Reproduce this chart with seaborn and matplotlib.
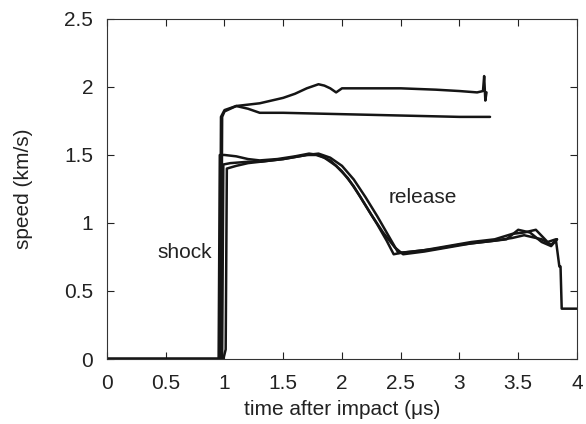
import pandas as pd
import matplotlib
matplotlib.use("Agg")
import matplotlib.pyplot as plt
import seaborn as sns

# upper traces (no release)
hi_t = [0, 0.96, 0.97, 1.0, 1.1, 1.2, 1.3, 1.4, 1.5, 1.6, 1.7, 1.8, 1.85, 1.9, 1.95, 2.0, 2.2, 2.5, 2.8, 3.0, 3.15, 3.2, 3.21, 3.22, 3.23]
hi_v = [0, 0, 1.78, 1.83, 1.86, 1.87, 1.88, 1.90, 1.92, 1.95, 1.99, 2.02, 2.01, 1.99, 1.96, 1.99, 1.99, 1.99, 1.98, 1.97, 1.96, 1.97, 2.08, 1.90, 1.96]

lo_t = [0, 0.97, 0.98, 1.0, 1.1, 1.2, 1.3, 1.5, 2.0, 2.5, 3.0, 3.26]
lo_v = [0, 0, 1.78, 1.82, 1.86, 1.84, 1.81, 1.81, 1.80, 1.79, 1.78, 1.78]

# lower traces (with release)
a_t = [0, 0.95, 0.96, 1.0, 1.1, 1.2, 1.3, 1.45, 1.6, 1.72, 1.8, 1.9, 2.0, 2.1, 2.2, 2.3, 2.38, 2.44, 2.5, 2.7,
       2.9, 3.1, 3.3, 3.45, 3.55, 3.65, 3.75, 3.82, 3.85, 3.86, 3.87, 4.0]
a_v = [0, 0, 1.50, 1.50, 1.49, 1.47, 1.46, 1.47, 1.49, 1.51, 1.50, 1.46, 1.38, 1.27, 1.13, 0.99, 0.87, 0.77, 0.78, 0.80,
       0.83, 0.86, 0.88, 0.92, 0.93, 0.95, 0.86, 0.88, 0.68, 0.68, 0.37, 0.37]

b_t = [0, 0.98, 0.99, 1.05, 1.2, 1.3, 1.5, 1.7, 1.8, 1.9, 2.0, 2.1, 2.2, 2.3, 2.4, 2.48, 2.6, 2.8, 3.0, 3.2,
       3.4, 3.5, 3.6, 3.7, 3.78, 3.83]
b_v = [0, 0, 1.43, 1.44, 1.45, 1.45, 1.47, 1.50, 1.51, 1.48, 1.42, 1.32, 1.19, 1.05, 0.90, 0.78, 0.79, 0.81, 0.84, 0.86,
       0.88, 0.95, 0.93, 0.86, 0.83, 0.88]

c_t = [0, 0.99, 1.01, 1.02, 1.1, 1.2, 1.3, 1.5, 1.7, 1.78, 1.85, 1.95, 2.05, 2.15, 2.25, 2.35, 2.45, 2.52, 2.7, 2.9,
       3.1, 3.3, 3.45, 3.55, 3.7, 3.78, 3.83]
c_v = [0, 0, 0.07, 1.40, 1.42, 1.44, 1.45, 1.47, 1.50, 1.50, 1.48, 1.42, 1.33, 1.20, 1.06, 0.93, 0.82, 0.77, 0.79, 0.82,
       0.85, 0.87, 0.89, 0.91, 0.88, 0.84, 0.88]

traces = {"hi": (hi_t, hi_v), "lo": (lo_t, lo_v), "a": (a_t, a_v), "b": (b_t, b_v), "c": (c_t, c_v)}
df = pd.concat([pd.DataFrame({"t": t, "v": v, "trace": k}) for k, (t, v) in traces.items()], ignore_index=True)

sns.set_style("ticks")
plt.rcParams["font.family"] = ["Liberation Sans", "DejaVu Sans"]
fs = 15

fig = plt.figure(figsize=(5.86, 4.24), dpi=100)
ax = fig.add_axes([0.1826, 0.1533, 0.802, 0.802])

sns.lineplot(data=df, x="t", y="v", hue="trace", units="trace", estimator=None, sort=False,
             palette={k: "#151515" for k in traces}, linewidth=1.8, legend=False, ax=ax)

ax.set_xlim(0, 4)
ax.set_ylim(0, 2.5)
ax.set_xticks([0, 0.5, 1, 1.5, 2, 2.5, 3, 3.5, 4])
ax.set_xticklabels(["0", "0.5", "1", "1.5", "2", "2.5", "3", "3.5", "4"])
ax.set_yticks([0, 0.5, 1, 1.5, 2, 2.5])
ax.set_yticklabels(["0", "0.5", "1", "1.5", "2", "2.5"])
ax.tick_params(direction="in", top=True, right=True, length=5, width=0.8, labelsize=fs, colors="#222222")
ax.tick_params(axis="y", pad=10)
ax.tick_params(axis="x", pad=11)
for s in ax.spines.values():
    s.set_linewidth(0.8)
    s.set_color("#333333")

ax.set_xlabel("time after impact (\u03bcs)", fontsize=fs, color="#222222", labelpad=5)
ax.set_ylabel("speed (km/s)", fontsize=fs, color="#222222", labelpad=22)

ax.text(0.66, 0.743, "shock", ha="center", va="baseline", fontsize=fs, color="#222222")
ax.text(2.69, 1.145, "release", ha="center", va="baseline", fontsize=fs, color="#222222")

fig.savefig("out.png", dpi=100)
